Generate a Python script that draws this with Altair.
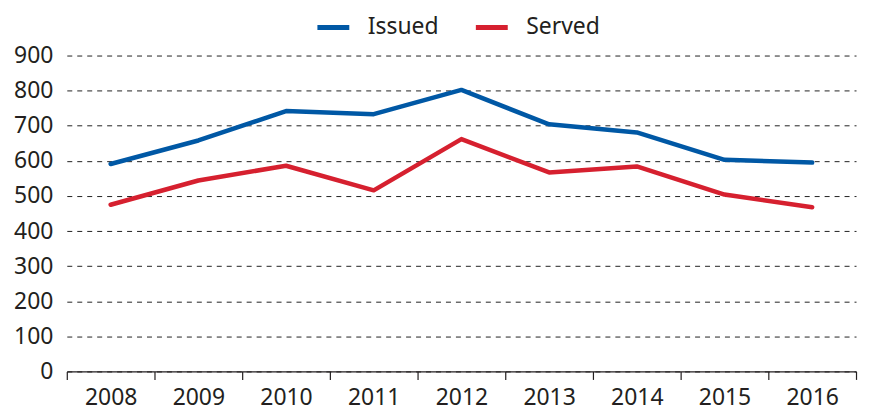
import altair as alt
import pandas as pd

years = ["2008", "2009", "2010", "2011", "2012", "2013", "2014", "2015", "2016"]
issued = [591, 658, 742, 733, 802, 704, 681, 603, 595]
served = [475, 544, 586, 516, 662, 567, 584, 504, 468]
series = ["Issued", "Served"]
colors = ["#0058a5", "#d6202f"]

rows = []
for y, v in zip(years, issued):
    rows.append({"year": y, "value": v, "series": "Issued"})
for y, v in zip(years, served):
    rows.append({"year": y, "value": v, "series": "Served"})
df = pd.DataFrame(rows)

FONT = "Noto Sans"
TXT = "#231f20"

chart = alt.Chart(df).mark_line(strokeWidth=4.5, strokeCap="round", strokeJoin="round").encode(
    x=alt.X("year:N", sort=years, title=None,
            scale=alt.Scale(paddingInner=0, paddingOuter=0),
            axis=alt.Axis(labelAngle=0, tickBand="extent", ticks=True, tickSize=8,
                          tickColor=TXT, domainColor=TXT, domainWidth=1.2, tickWidth=1.2,
                          labelFontSize=23, labelFont=FONT, labelColor=TXT, labelPadding=7,
                          grid=False)),
    y=alt.Y("value:Q", title=None,
            scale=alt.Scale(domain=[0, 900], nice=False),
            axis=alt.Axis(values=list(range(0, 1000, 100)), ticks=False, domain=False,
                          labelFontSize=23, labelFont=FONT, labelColor=TXT, labelPadding=14,
                          grid=True, gridDash=[5, 5], gridColor="#222222", gridWidth=1)),
    color=alt.Color("series:N", scale=alt.Scale(domain=series, range=colors),
                    legend=alt.Legend(title=None, orient="none", direction="horizontal",
                                      legendX=249, legendY=-47,
                                      symbolType="stroke", symbolSize=1024, symbolStrokeWidth=5,
                                      labelFontSize=23, labelFont=FONT, labelColor=TXT,
                                      labelOffset=16, columnPadding=26)),
).properties(
    width=792, height=317,
    autosize=alt.AutoSizeParams(type="none"),
    padding={"left": 59, "top": 47, "right": 5, "bottom": 41},
).configure_view(stroke=None)

chart.save("out.html", embed_options={"renderer": "svg", "actions": False})
